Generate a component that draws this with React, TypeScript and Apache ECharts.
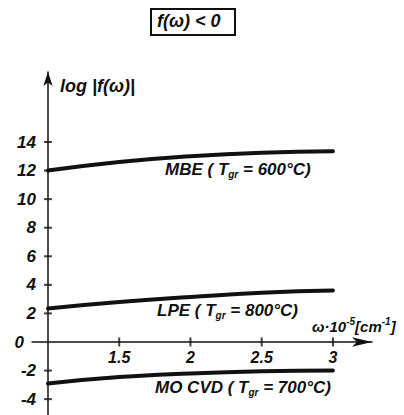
import React, { useEffect, useRef } from "react";
import * as echarts from "echarts";

const xValues = [1, 1.5, 2, 2.5, 3];
const mbe = [12.0, 12.6, 13.0, 13.25, 13.35];
const lpe = [2.35, 2.8, 3.15, 3.45, 3.6];
const mocvd = [-2.9, -2.45, -2.2, -2.05, -2.0];
const yTicks = [-4, -2, 0, 2, 4, 6, 8, 10, 12, 14];
const xTicks = [1.5, 2, 2.5, 3];
const xTickLabels = ["1.5", "2", "2.5", "3"];

const FONT = "Liberation Sans";

export default function App() {
  const ref = useRef<HTMLDivElement>(null);
  useEffect(() => {
    if (!ref.current) return;
    const chart = echarts.init(ref.current, undefined, { renderer: "svg" });
    const lineStyle = { color: "#111", width: 4, cap: "round" as const };
    const mk = (vals: number[], name: string) => ({
      type: "line",
      name,
      data: xValues.map((x, i) => [x, vals[i]]),
      smooth: true,
      symbol: "none",
      lineStyle,
      silent: true,
    });
    const txt = (a: any) => ({
      type: "text",
      ...a,
      style: {
        fontFamily: FONT,
        fontStyle: "italic",
        fontWeight: "bold",
        fill: "#111",
        ...a.style,
      },
    });
    const richBase = {
      a: { fontFamily: FONT, fontStyle: "italic", fontWeight: "bold", fontSize: 17, fill: "#111", lineHeight: 20 },
      s: { fontFamily: FONT, fontStyle: "italic", fontWeight: "bold", fontSize: 10, fill: "#111", verticalAlign: "bottom", lineHeight: 20, padding: [8, 0, 0, 0] },
      u: { fontFamily: FONT, fontStyle: "italic", fontWeight: "bold", fontSize: 10, fill: "#111", verticalAlign: "top", lineHeight: 20, padding: [0, 0, 8, 0] },
    };
    chart.setOption({
      animation: false,
      backgroundColor: "#fff",
      grid: { left: 32, right: 32, top: 72, bottom: 0 },
      xAxis: [
        {
          type: "value",
          min: 0.888,
          max: 3.274,
          offset: -73,
          axisLine: {
            onZero: false,
            lineStyle: { color: "#111", width: 1.5 },
            symbol: ["none", "arrow"],
            symbolSize: [7, 20],
          },
          splitLine: { show: false },
          axisTick: { show: false },
          axisLabel: {
            customValues: xTicks,
            formatter: (v: number) => xTickLabels[xTicks.indexOf(v)] ?? "",
            fontFamily: FONT,
            fontStyle: "italic",
            fontWeight: "bold",
            fontSize: 16,
            color: "#111",
            margin: 7,
          },
        },
      ],
      yAxis: [
        {
          type: "value",
          min: -5.11,
          max: 18.9,
          offset: -16,
          axisLine: {
            show: true,
            onZero: false,
            lineStyle: { color: "#111", width: 1.5 },
            symbol: ["none", "arrow"],
            symbolSize: [7, 14],
          },
          splitLine: { show: false },
          axisTick: { show: false },
          axisLabel: {
            customValues: yTicks,
            formatter: (v: number) => (v === 0 ? "{z|0}" : String(v)),
            rich: { z: { fontFamily: FONT, fontStyle: "italic", fontWeight: "bold", fontSize: 17, color: "#111", padding: [0, 12, 0, 0] } },
            fontFamily: FONT,
            fontStyle: "italic",
            fontWeight: "bold",
            fontSize: 17,
            color: "#111",
            margin: 12,
          },
        },
      ],
      series: [
        mk(mbe, "MBE"),
        mk(lpe, "LPE"),
        mk(mocvd, "MO CVD"),
        {
          type: "scatter",
          name: "yticks",
          data: yTicks.filter((v) => v !== 0).map((v) => [1, v]),
          symbol: "rect",
          symbolSize: [8, 2],
          itemStyle: { color: "#111" },
          silent: true,
          z: 3,
        },
        {
          type: "scatter",
          name: "xticks",
          data: xTicks.map((v) => [v, 0]),
          symbol: "rect",
          symbolSize: [2, 9],
          itemStyle: { color: "#111" },
          silent: true,
          z: 3,
        },
      ],
      graphic: [
        {
          type: "rect",
          shape: { x: 151, y: 9, width: 84, height: 26 },
          style: { fill: "none", stroke: "#111", lineWidth: 2 },
        },
        txt({ left: 157, top: 12, style: { text: "f(ω) < 0", fontSize: 18 } }),
        txt({ left: 60, top: 77, style: { text: "log |f(ω)|", fontSize: 18 } }),
        {
          type: "text",
          left: 165,
          top: 161,
          style: { text: "{a|MBE ( T}{s|gr}{a| = 600°C)}", rich: richBase },
        },
        {
          type: "text",
          left: 157,
          top: 302,
          style: { text: "{a|LPE ( T}{s|gr}{a| = 800°C)}", rich: richBase },
        },
        {
          type: "text",
          left: 155,
          top: 379,
          style: { text: "{a|MO CVD ( T}{s|gr}{a| = 700°C)}", rich: richBase },
        },
        {
          type: "text",
          left: 312,
          top: 316,
          style: {
            text: "{a|ω·10}{u|-5}{a|[cm}{u|-1}{a|]}",
            rich: {
              a: { ...richBase.a, fontSize: 15 },
              u: richBase.u,
            },
          },
        },
      ],
    });
    return () => chart.dispose();
  }, []);
  return <div ref={ref} style={{ position: "absolute", left: 0, top: 0, width: 404, height: 415 }} />;
}
